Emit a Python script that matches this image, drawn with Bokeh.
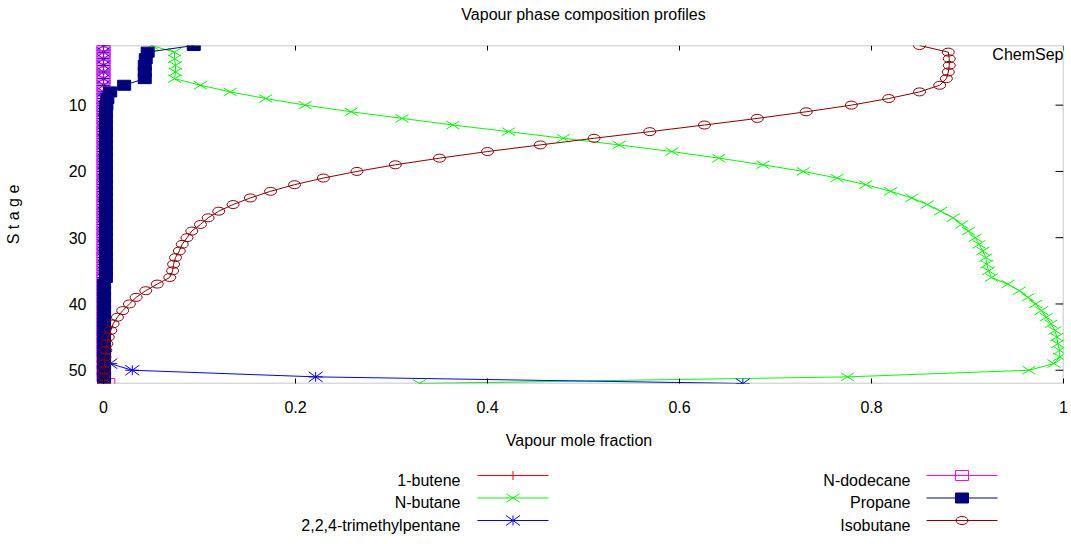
from bokeh.core.properties import value
from bokeh.embed import file_html
from bokeh.layouts import column
from bokeh.models import (BoxAnnotation, FixedTicker, Label,
                          PrintfTickFormatter, Range1d)
from bokeh.plotting import figure
from bokeh.resources import INLINE

FONT = "Liberation Sans"
FS = "16px"

# ---- column stage profile data (vapour mole fractions, stage 1 = top) ----
stages = list(range(1, 53))

butene_1 = [0.0, 0.0, 0.0, 0.0, 0.0, 0.0, 0.0, 0.0, 0.0, 0.0,
            0.0, 0.0, 0.0, 0.0, 0.0, 0.0, 0.0, 0.0, 0.0, 0.0,
            0.0, 0.0, 0.0, 0.0, 0.0, 0.0, 0.0, 0.0, 0.0, 0.0,
            0.0, 0.0, 0.0, 0.0, 0.0, 0.0, 0.0, 0.0, 0.0, 0.0,
            0.0, 0.0, 0.0, 0.0, 0.0, 0.0, 0.0, 0.0, 0.0, 0.0,
            0.0, 0.0]

n_butane = [0.050, 0.074, 0.074, 0.075, 0.075, 0.074, 0.101, 0.132, 0.169, 0.210,
            0.258, 0.311, 0.364, 0.422, 0.479, 0.537, 0.592, 0.641, 0.687, 0.729,
            0.764, 0.794, 0.820, 0.842, 0.858, 0.872, 0.885, 0.894, 0.901, 0.908,
            0.912, 0.916, 0.919, 0.920, 0.922, 0.925, 0.942, 0.954, 0.963, 0.971,
            0.977, 0.982, 0.987, 0.991, 0.993, 0.994, 0.996, 0.996, 0.990, 0.964,
            0.775, 0.329]

tmp_224 = [0.0, 0.0, 0.0, 0.0, 0.0, 0.0, 0.0, 0.0, 0.0, 0.0,
           0.0, 0.0, 0.0, 0.0, 0.0, 0.0, 0.0, 0.0, 0.0, 0.0,
           0.0, 0.0, 0.0, 0.0, 0.0, 0.0, 0.0, 0.0, 0.0, 0.0,
           0.0, 0.0, 0.0, 0.0, 0.0, 0.0, 0.0, 0.0, 0.0, 0.0,
           0.0, 0.0, 0.0, 0.0, 0.0, 0.0, 0.0, 0.0, 0.007, 0.030,
           0.221, 0.666]

n_dodecane = [0.0, 0.0, 0.0, 0.0, 0.0, 0.0, 0.0, 0.0, 0.0, 0.0,
              0.0, 0.0, 0.0, 0.0, 0.0, 0.0, 0.0, 0.0, 0.0, 0.0,
              0.0, 0.0, 0.0, 0.0, 0.0, 0.0, 0.0, 0.0, 0.0, 0.0,
              0.0, 0.0, 0.0, 0.0, 0.0, 0.0, 0.0, 0.0, 0.0, 0.0,
              0.0, 0.0, 0.0, 0.0, 0.0, 0.0, 0.0, 0.0, 0.0, 0.0,
              0.0, 0.005]

propane = [0.094, 0.046, 0.044, 0.043, 0.043, 0.043, 0.0215, 0.007, 0.004, 0.003,
           0.0025, 0.0025, 0.0025, 0.0025, 0.0025, 0.0025, 0.0025, 0.0025, 0.0025, 0.0025,
           0.0025, 0.0025, 0.0025, 0.0025, 0.0025, 0.0025, 0.0025, 0.0025, 0.0025, 0.0025,
           0.0025, 0.0025, 0.0025, 0.0025, 0.0025, 0.0025, 0.0006, 0.0006, 0.0006, 0.0006,
           0.0006, 0.0006, 0.0006, 0.0006, 0.0006, 0.0006, 0.0006, 0.0006, 0.0006, 0.0006,
           0.0006, 0.0006]

isobutane = [0.850, 0.880, 0.881, 0.881, 0.880, 0.878, 0.871, 0.850, 0.818, 0.779,
             0.732, 0.681, 0.626, 0.569, 0.511, 0.455, 0.400, 0.350, 0.304, 0.264,
             0.229, 0.199, 0.174, 0.153, 0.135, 0.120, 0.109, 0.101, 0.092, 0.087,
             0.082, 0.079, 0.075, 0.073, 0.072, 0.069, 0.056, 0.044, 0.034, 0.027,
             0.020, 0.0145, 0.010, 0.0076, 0.005, 0.0035, 0.0024, 0.0015, 0.001, 0.0006,
             0.0003, 0.0001]

x_ticks = [0, 0.2, 0.4, 0.6, 0.8, 1.0]
y_ticks = [10, 20, 30, 40, 50]

series = [
    ("1-butene", butene_1, "#ff0000", "plus"),
    ("N-butane", n_butane, "#00ff00", "cross"),
    ("2,2,4-trimethylpentane", tmp_224, "#0000ff", "star"),
    ("N-dodecane", n_dodecane, "#ff00ff", "open_square"),
    ("Propane", propane, "#000080", "filled_square"),
    ("Isobutane", isobutane, "#8b0000", "circle"),
]

# ---- point symbols (wider than tall, drawn as strokes) ----
STROKES = {
    "plus": [(-1, 0, 1, 0), (0, -1, 0, 1)],
    "cross": [(-1, -1, 1, 1), (-1, 1, 1, -1)],
    "star": [(-1, 0, 1, 0), (0, -1, 0, 1), (-1, -1, 1, 1), (-1, 1, 1, -1)],
}
HALF = {"plus": (6, 4.5), "cross": (6.5, 4), "star": (7, 5)}


def draw_symbols(fig, kind, xs, ys, color, kx, ky):
    """kx, ky: data units per screen pixel along x and y."""
    if kind in STROKES:
        hw, hh = HALF[kind]
        x0, y0, x1, y1 = [], [], [], []
        for x, y in zip(xs, ys):
            for a, b, c, d in STROKES[kind]:
                x0.append(x + a * hw * kx)
                y0.append(y + b * hh * ky)
                x1.append(x + c * hw * kx)
                y1.append(y + d * hh * ky)
        fig.segment(x0, y0, x1, y1, line_color=color, line_width=1)
    elif kind in ("open_square", "filled_square"):
        fig.rect(xs, ys, width=13, height=10, width_units="screen",
                 height_units="screen", line_color=color, line_width=1,
                 fill_color=color if kind == "filled_square" else None)
    else:
        fig.ellipse(xs, ys, width=12, height=8, width_units="screen",
                    height_units="screen", fill_color=None,
                    line_color=color, line_width=1)


# frame of the main plot, in page pixels
FRAME_L, FRAME_R = 94, 1063


def blank_strip(height):
    """A bare strip whose x data units are page pixels (y grows downward).
    Its frame shares the main plot's left/right borders, so the column
    layout keeps it aligned with them."""
    f = figure(width=1071, height=height, x_range=Range1d(FRAME_L, FRAME_R),
               y_range=Range1d(height, 0), toolbar_location=None,
               output_backend="svg", min_border_top=0, min_border_bottom=0,
               min_border_left=FRAME_L, min_border_right=1071 - FRAME_R,
               x_axis_location=None, y_axis_location=None)
    f.outline_line_color = None
    f.xgrid.visible = False
    f.ygrid.visible = False
    return f


# ---- heading strip ----
head = blank_strip(30)
head.text(x=[583], y=[14], text=["Vapour phase composition profiles"],
          text_align="center", text_baseline="middle", text_font=value(FONT),
          text_font_size=FS, text_color="black")

# ---- main plot ----
X_PX = 960.0           # pixels per unit mole fraction
Y_PX = 338.0 / 51.0    # pixels per stage
LEFT_PAD = 9           # room left of x = 0 so edge symbols stay visible

p = figure(width=1071, height=430,
           x_range=Range1d(-LEFT_PAD / X_PX, 1.0), y_range=Range1d(52, 1),
           toolbar_location=None, output_backend="svg",
           min_border_left=FRAME_L, min_border_right=1071 - FRAME_R,
           min_border_top=15, min_border_bottom=77)
p.title.visible = False
p.outline_line_color = None
p.xgrid.visible = False
p.ygrid.visible = False
p.background_fill_color = "white"
p.border_fill_color = "white"

xa = p.xaxis[0]
xa.ticker = FixedTicker(ticks=x_ticks)
xa.formatter = PrintfTickFormatter(format="%g")
xa.axis_label = "Vapour mole fraction"
xa.major_tick_in = 5
xa.major_label_standoff = 17
xa.axis_label_standoff = 16

ya = p.yaxis[0]
ya.ticker = FixedTicker(ticks=y_ticks)
ya.axis_label = "S t a g e"
ya.major_tick_in = 0
ya.major_label_standoff = 8
ya.axis_label_standoff = 44

for ax in (xa, ya):
    ax.axis_line_color = None
    ax.major_tick_out = 0
    ax.minor_tick_line_color = None
    ax.major_tick_line_color = "black"
    ax.major_label_text_font = FONT
    ax.major_label_text_font_size = FS
    ax.major_label_text_color = "black"
    ax.axis_label_text_font = FONT
    ax.axis_label_text_font_size = FS
    ax.axis_label_text_font_style = "normal"
    ax.axis_label_text_color = "black"

kx = 1.0 / X_PX
ky = 1.0 / Y_PX

# mirrored tick marks on the top and right borders
p.segment(x_ticks, [1] * len(x_ticks), x_ticks, [1 + 5 * ky] * len(x_ticks),
          line_color="black", line_width=1)
p.segment([1] * len(y_ticks), y_ticks, [1 - 8 * kx] * len(y_ticks), y_ticks,
          line_color="black", line_width=1)

for name, vals, color, kind in series:
    p.line(vals, stages, line_color=color, line_width=1)
    draw_symbols(p, kind, vals, stages, color, kx, ky)

# plot border
p.add_layout(BoxAnnotation(left=0, right=1, top=1, bottom=52,
                           fill_alpha=0, line_color="black", line_width=1.5))

p.add_layout(Label(x=1, y=1, text="ChemSep", text_align="right",
                   text_baseline="top", text_font=FONT, text_font_size=FS,
                   text_color="black"))

# ---- key below the plot: label, then line sample with its symbol ----
leg = blank_strip(84)
row_y = [15, 37.5, 60]
cols = [(460, 477, 548), (910, 926, 997)]   # text right edge, sample start, sample end
for i, (name, vals, color, kind) in enumerate(series):
    text_r, s0, s1 = cols[i // 3]
    yy = row_y[i % 3]
    leg.text(x=[text_r], y=[yy + 4.5], text=[name], text_align="right",
             text_baseline="middle", text_font=value(FONT),
             text_font_size=FS, text_color="black")
    leg.line([s0, s1], [yy, yy], line_color=color, line_width=1)
    draw_symbols(leg, kind, [(s0 + s1) / 2], [yy], color, 1.0, 1.0)

layout = column(head, p, leg)
open("out.html", "w").write(file_html(layout, INLINE))
